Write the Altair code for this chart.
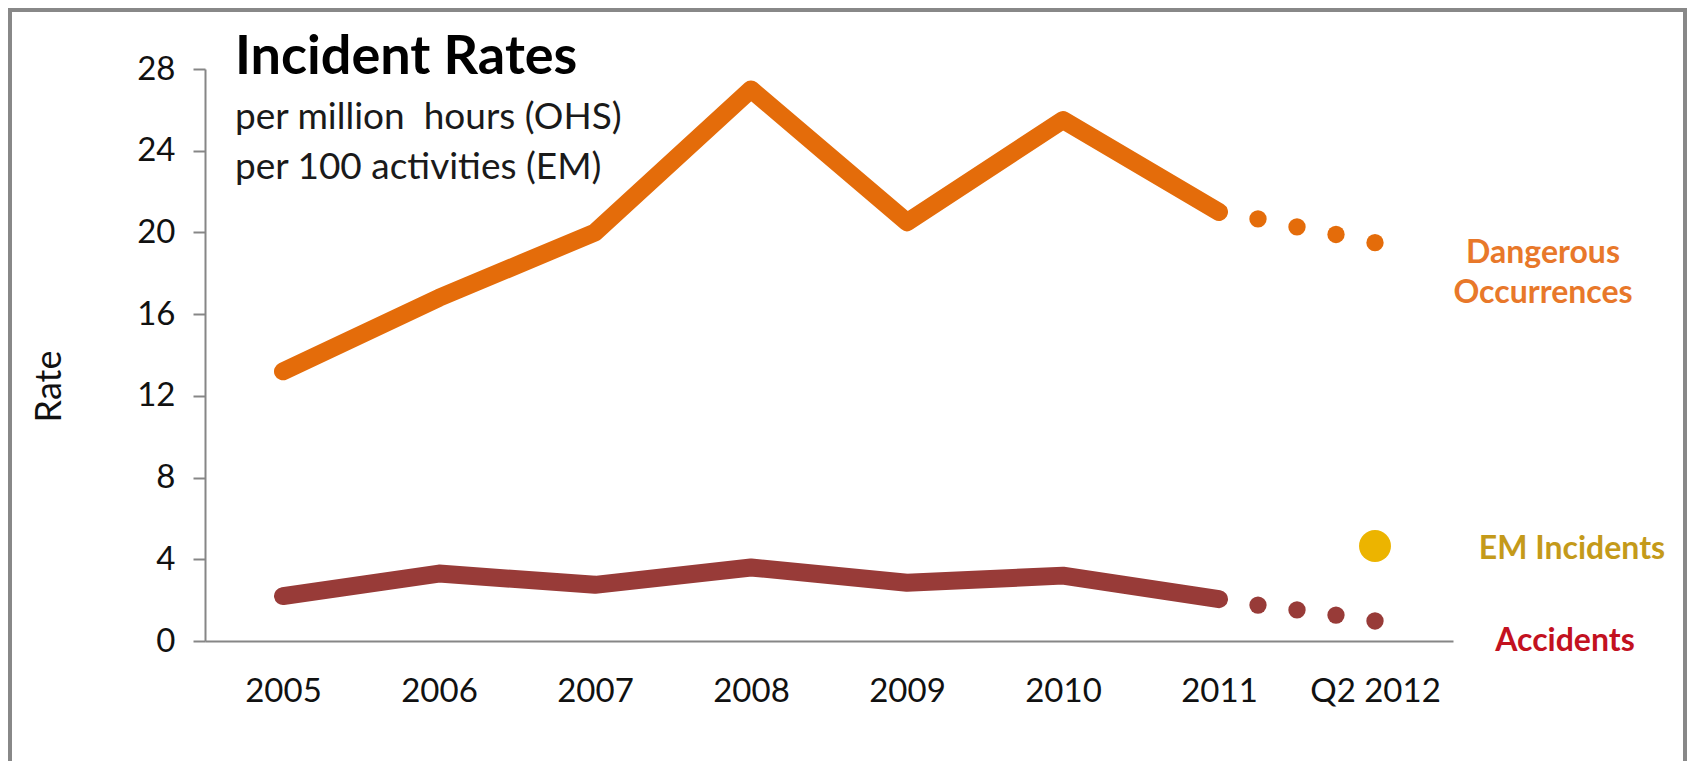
import altair as alt
import pandas as pd

# ---- data ----
years = [2005, 2006, 2007, 2008, 2009, 2010, 2011]
dangerous = [13.2, 16.8, 20.0, 27.0, 20.5, 25.5, 21.0]
accidents = [2.2, 3.3, 2.75, 3.6, 2.85, 3.2, 2.05]
quarters = [2011.25, 2011.5, 2011.75, 2012.0]
dangerous_q = [20.66, 20.27, 19.9, 19.5]
accidents_q = [1.76, 1.52, 1.27, 0.98]
em_x = [2012.0]
em_incidents = [4.65]

x_ticks = [2005, 2006, 2007, 2008, 2009, 2010, 2011, 2012]
x_labels = ["2005", "2006", "2007", "2008", "2009", "2010", "2011", "Q2 2012"]
y_ticks = [0, 4, 8, 12, 16, 20, 24, 28]

FONT = "Lato"
ORANGE = "#E46C0A"
BROWN = "#983B38"
GOLD = "#ECB400"
AXIS_GREY = "#868686"

W, H = 1248, 572
PAD = {"left": 197, "top": 61, "right": 234, "bottom": 120}

df_d = pd.DataFrame({"x": years, "value": dangerous})
df_a = pd.DataFrame({"x": years, "value": accidents})
df_dq = pd.DataFrame({"x": quarters, "value": dangerous_q})
df_aq = pd.DataFrame({"x": quarters, "value": accidents_q})
df_em = pd.DataFrame({"x": em_x, "value": em_incidents})

label_expr = ""
for v, t in zip(x_ticks, x_labels):
    label_expr += f"datum.value == {v} ? '{t}' : "
label_expr += "''"

x_enc = alt.X(
    "x:Q",
    scale=alt.Scale(domain=[2004.5, 2012.5], nice=False, zero=False),
    axis=alt.Axis(
        values=x_ticks,
        labelExpr=label_expr,
        ticks=False,
        grid=False,
        domainColor=AXIS_GREY,
        domainWidth=2,
        labelFont=FONT,
        labelFontSize=33,
        labelColor="#111111",
        labelPadding=34,
        labelFlush=False,
        labelOverlap=False,
    ),
    title=None,
)
y_enc = alt.Y(
    "value:Q",
    scale=alt.Scale(domain=[0, 28], nice=False),
    axis=alt.Axis(
        values=y_ticks,
        grid=False,
        domainColor=AXIS_GREY,
        domainWidth=2,
        tickColor=AXIS_GREY,
        tickWidth=2,
        tickSize=12,
        labelFont=FONT,
        labelFontSize=33,
        labelColor="#111111",
        labelPadding=18,
        titleFont=FONT,
        titleFontSize=36,
        titleFontWeight="normal",
        titleColor="#111111",
        titleX=-156,
        titleY=317,
        titleAngle=270,
        titleAlign="center",
        titleBaseline="middle",
    ),
    title="Rate",
)

line_d = alt.Chart(df_d).mark_line(
    color=ORANGE, strokeWidth=18, strokeCap="round", strokeJoin="round"
).encode(x=x_enc, y=y_enc)
line_a = alt.Chart(df_a).mark_line(
    color=BROWN, strokeWidth=18, strokeCap="round", strokeJoin="round"
).encode(x=x_enc, y=y_enc)
dots_d = alt.Chart(df_dq).mark_circle(color=ORANGE, size=300, opacity=1).encode(x=x_enc, y=y_enc)
dots_a = alt.Chart(df_aq).mark_circle(color=BROWN, size=300, opacity=1).encode(x=x_enc, y=y_enc)
dot_em = alt.Chart(df_em).mark_circle(color=GOLD, size=1020, opacity=1).encode(x=x_enc, y=y_enc)

one = pd.DataFrame({"k": [0]})

lbl_d = alt.Chart(one).mark_text(
    text=["Dangerous", "Occurrences"], font=FONT, fontSize=32, fontWeight="bold",
    color="#E8782A", align="center", baseline="middle", lineHeight=40, dx=168,
).encode(x=alt.datum(2012), y=alt.datum(19.0))
lbl_em = alt.Chart(one).mark_text(
    text="EM Incidents", font=FONT, fontSize=32, fontWeight="bold",
    color="#C49A1A", align="center", baseline="middle", dx=197,
).encode(x=alt.datum(2012), y=alt.datum(4.5))
lbl_acc = alt.Chart(one).mark_text(
    text="Accidents", font=FONT, fontSize=32, fontWeight="bold",
    color="#C3111F", align="center", baseline="middle", dx=190,
).encode(x=alt.datum(2012), y=alt.datum(0))

title_t = alt.Chart(one).mark_text(
    text="Incident Rates", font=FONT, fontSize=54, fontWeight="bold",
    color="#000000", align="left", baseline="alphabetic",
).encode(x=alt.value(30), y=alt.value(5))
sub1 = alt.Chart(one).mark_text(
    text="per million\u00a0 hours (OHS)", font=FONT, fontSize=37,
    color="#1a1a1a", align="left", baseline="alphabetic",
).encode(x=alt.value(30), y=alt.value(60))
sub2 = alt.Chart(one).mark_text(
    text="per 100 activities (EM)", font=FONT, fontSize=37,
    color="#1a1a1a", align="left", baseline="alphabetic",
).encode(x=alt.value(30), y=alt.value(110))

border = alt.Chart(one).mark_rect(
    fillOpacity=0, stroke="#888888", strokeWidth=4
).encode(
    x=alt.value(-195), x2=alt.value(1480), y=alt.value(-59), y2=alt.value(800)
)

chart = alt.layer(
    border, line_d, line_a, dots_d, dots_a, dot_em,
    lbl_d, lbl_em, lbl_acc, title_t, sub1, sub2,
).properties(
    width=W, height=H,
    autosize=alt.AutoSizeParams(type="none"),
    padding=PAD,
    background="white",
).configure_view(stroke="transparent")

chart.save("out.html", embed_options={"renderer": "svg", "actions": False})
